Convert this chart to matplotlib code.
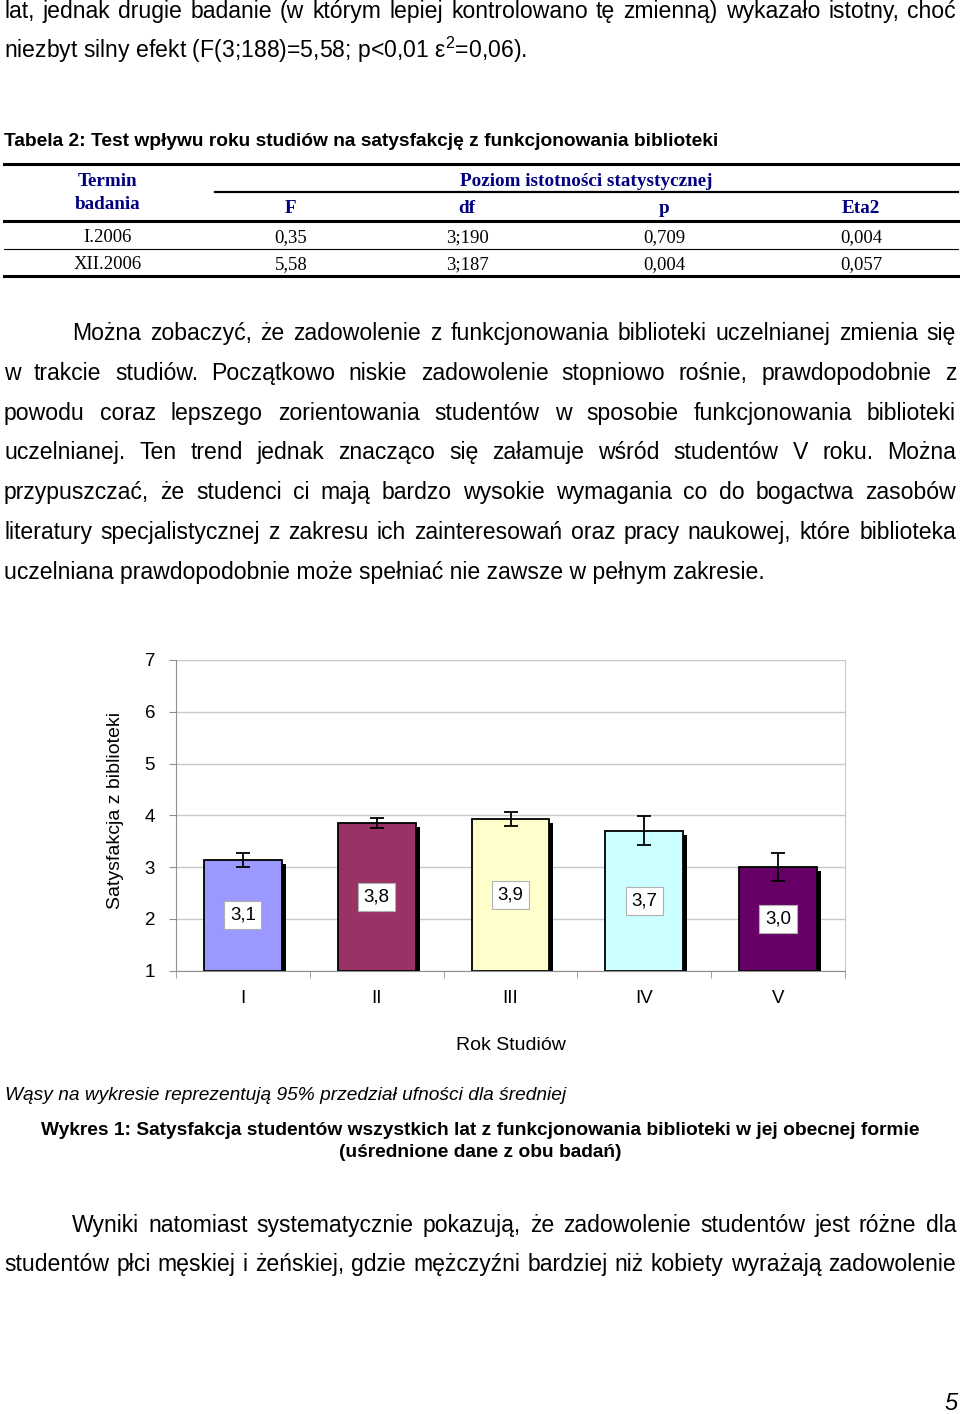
import matplotlib
matplotlib.use("Agg")
import matplotlib.pyplot as plt
import matplotlib.patheffects as pe
from matplotlib.lines import Line2D

plt.rcParams['font.family'] = ['Liberation Sans', 'DejaVu Sans']
plt.rcParams['mathtext.fontset'] = 'custom'
plt.rcParams['mathtext.rm'] = 'Liberation Sans'

W, H = 960, 1414

# chart data
years = ['I', 'II', 'III', 'IV', 'V']
means = [3.14, 3.85, 3.93, 3.70, 3.00]
ci95 = [0.14, 0.09, 0.14, 0.28, 0.27]
value_labels = ['3,1', '3,8', '3,9', '3,7', '3,0']
bar_colors = ['#9999FF', '#993366', '#FFFFCC', '#CCFFFF', '#660066']

# table data
table_cols = ['F', 'df', 'p', 'Eta2']
table_terms = ['I.2006', 'XII.2006']
table_F = ['0,35', '5,58']
table_df = ['3;190', '3;187']
table_p = ['0,709', '0,004']
table_eta = ['0,004', '0,057']

# page text
para1 = ["lat, jednak drugie badanie (w którym lepiej kontrolowano tę zmienną) wykazało istotny, choć",
         "niezbyt silny efekt (F(3;188)=5,58; p<0,01 ε$^{2}$=0,06)."]
para2 = ["Można zobaczyć, że zadowolenie z funkcjonowania biblioteki uczelnianej zmienia się",
         "w trakcie studiów. Początkowo niskie zadowolenie stopniowo rośnie, prawdopodobnie z",
         "powodu coraz lepszego zorientowania studentów w sposobie funkcjonowania biblioteki",
         "uczelnianej. Ten trend jednak znacząco się załamuje wśród studentów V roku. Można",
         "przypuszczać, że studenci ci mają bardzo wysokie wymagania co do bogactwa zasobów",
         "literatury specjalistycznej z zakresu ich zainteresowań oraz pracy naukowej, które biblioteka",
         "uczelniana prawdopodobnie może spełniać nie zawsze w pełnym zakresie."]
para3 = ["Wyniki natomiast systematycznie pokazują, że zadowolenie studentów jest różne dla",
         "studentów płci męskiej i żeńskiej, gdzie mężczyźni bardziej niż kobiety wyrażają zadowolenie"]

BODY = 16.6
SMALL = 13.8

fig = plt.figure(figsize=(W / 100, H / 100), dpi=100)
renderer = fig.canvas.get_renderer()


def fx(x):
    return x / W


def fy(y):
    return 1 - y / H


def put_line(text, x0, x1, y, justify=True, **kw):
    if not justify:
        fig.text(fx(x0), fy(y), text, va='baseline', **kw)
        return
    words = text.split()
    objs = [fig.text(0, fy(y), w, va='baseline', **kw) for w in words]
    widths = [o.get_window_extent(renderer).width for o in objs]
    gap = (x1 - x0 - sum(widths)) / (len(words) - 1)
    x = x0
    for o, w in zip(objs, widths):
        o.set_x(fx(x))
        x += w + gap


def paragraph(lines, y0, step, indent=72, size=BODY):
    for i, line in enumerate(lines):
        x0 = indent if i == 0 else 4
        last = i == len(lines) - 1
        put_line(line, x0, 956, y0 + i * step, justify=not last, fontsize=size)


def hline(x0, x1, y, lw):
    fig.add_artist(Line2D([fx(x0), fx(x1)], [fy(y), fy(y)], transform=fig.transFigure,
                          color='black', lw=lw))


# first paragraph (continued from previous page)
put_line(para1[0], 4, 956, 18, fontsize=BODY)
put_line(para1[1], 4, 956, 58, justify=False, fontsize=BODY)

# table
fig.text(fx(4), fy(146), "Tabela 2: Test wpływu roku studiów na satysfakcję z funkcjonowania biblioteki",
         fontsize=SMALL, fontweight='bold', va='baseline')
hline(4, 958, 164, 2.2)
hline(215, 958, 192, 1.6)
hline(4, 958, 221, 2.2)
hline(4, 958, 249, 0.8)
hline(4, 958, 276, 2.2)

serif = dict(family='Liberation Serif', fontsize=13.5, va='baseline', ha='center')
head = dict(serif, color='#000080', fontweight='bold', fontsize=13.8)
fig.text(fx(108), fy(186), "Termin", **head)
fig.text(fx(108), fy(209), "badania", **head)
fig.text(fx(586), fy(186), "Poziom istotności statystycznej", **head)
col_x = [291, 467, 664, 861]
for cx, name in zip(col_x, table_cols):
    fig.text(fx(cx), fy(213), name, **head)
for r, term in enumerate(table_terms):
    yb = 242 + r * 27
    fig.text(fx(108), fy(yb), term, **serif)
    for cx, vals in zip(col_x, [table_F, table_df, table_p, table_eta]):
        fig.text(fx(cx), fy(yb), vals[r], **serif)

# second paragraph
paragraph(para2, 340, 39.8)

# chart
ax_l, ax_r, ax_t, ax_b = 176, 845, 660, 970.7
ax = fig.add_axes([fx(ax_l), fy(ax_b), (ax_r - ax_l) / W, (ax_b - ax_t) / H])
x = list(range(len(years)))
heights = [m - 1 for m in means]
bars = ax.bar(x, heights, bottom=1, width=0.58, color=bar_colors, edgecolor='black',
              linewidth=1.3, zorder=2)
for b in bars:
    b.set_path_effects([pe.SimplePatchShadow(offset=(3, -3), shadow_rgbFace='black', alpha=1.0),
                        pe.Normal()])
ax.errorbar(x, means, yerr=ci95, fmt='none', ecolor='black', elinewidth=1.3,
            capsize=5, capthick=1.3, zorder=3)
for xi, m, lab in zip(x, means, value_labels):
    ax.text(xi, (1 + m) / 2, lab, ha='center', va='center', fontsize=13.5, zorder=4,
            bbox=dict(boxstyle='square,pad=0.3', fc='white', ec='#b0b0b0', lw=0.8))

ax.set_xlim(-0.5, 4.5)
ax.set_ylim(1, 7)
ax.set_yticks(range(1, 8))
ax.set_yticklabels([str(v) for v in range(1, 8)], fontsize=13.5)
ax.set_xticks(x)
ax.set_xticklabels(years, fontsize=13.5)
ax.set_xticks([i - 0.5 for i in range(6)], minor=True)
ax.tick_params(axis='x', which='major', length=0, pad=14)
ax.tick_params(axis='x', which='minor', length=5, color='#909090')
ax.tick_params(axis='y', length=5, color='#909090', pad=10)
ax.grid(axis='y', color='#c8c8c8', lw=1)
ax.set_axisbelow(True)
for s in ['left', 'bottom']:
    ax.spines[s].set_color('#909090')
ax.spines['right'].set_color('#c8c8c8')
ax.spines['top'].set_visible(False)
ax.set_ylabel("Satysfakcja z biblioteki", fontsize=14, va='center')
ax.yaxis.set_label_coords((116 - ax_l) / (ax_r - ax_l), 1 - (810 - ax_t) / (ax_b - ax_t))
ax.set_xlabel("Rok Studiów", fontsize=14, va='center')
ax.xaxis.set_label_coords(0.5, -(1045 - ax_b) / (ax_b - ax_t))

# notes and caption
fig.text(fx(5), fy(1100), "Wąsy na wykresie reprezentują 95% przedział ufności dla średniej",
         fontsize=SMALL, style='italic', va='baseline')
fig.text(fx(480), fy(1135), "Wykres 1: Satysfakcja studentów wszystkich lat z funkcjonowania biblioteki w jej obecnej formie",
         fontsize=SMALL, fontweight='bold', va='baseline', ha='center')
fig.text(fx(480), fy(1157), "(uśrednione dane z obu badań)",
         fontsize=SMALL, fontweight='bold', va='baseline', ha='center')

# third paragraph
for i, line in enumerate(para3):
    put_line(line, 72 if i == 0 else 4, 956, 1232 + i * 39, fontsize=BODY)

# page number
fig.text(fx(958), fy(1410), "5", fontsize=17, style='italic', ha='right', va='baseline')

fig.savefig("out.png", dpi=100)
